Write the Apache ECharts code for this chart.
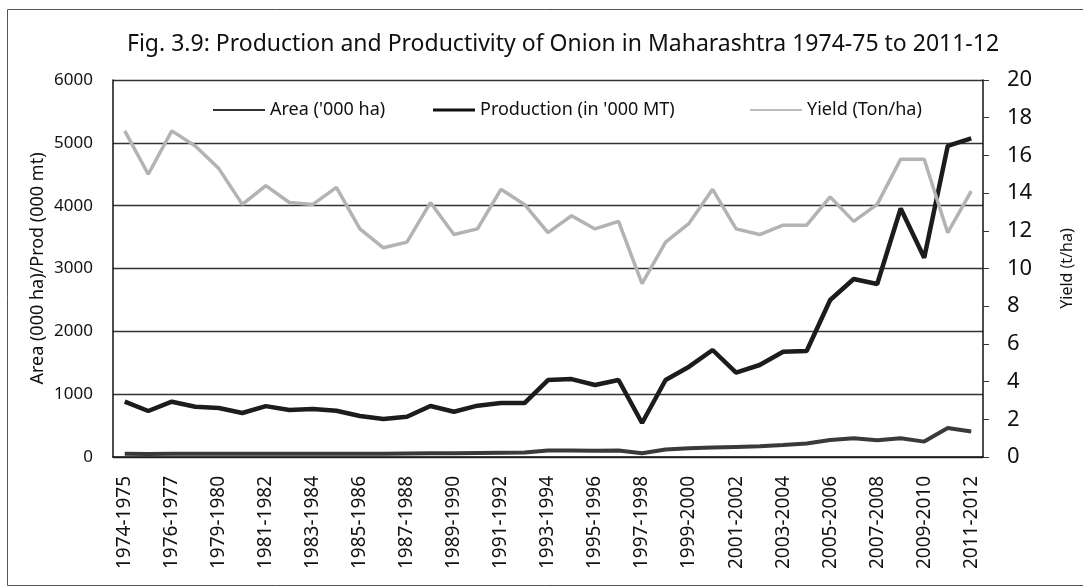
<!DOCTYPE html>
<html>
<head>
<meta charset="utf-8">
<title>Onion in Maharashtra</title>
<script src="https://cdn.jsdelivr.net/npm/echarts@6/dist/echarts.min.js"></script>
<style>
  html, body { margin: 0; padding: 0; background: #fff; }
  #chart { width: 1083px; height: 588px; }
</style>
</head>
<body>
<div id="chart"></div>
<script>
// categories (one year 1977-78 / 1978-79 is missing in the source)
const years = [
  '1974-1975', '1975-1976', '1976-1977', '1978-1979', '1979-1980', '1980-1981',
  '1981-1982', '1982-1983', '1983-1984', '1984-1985', '1985-1986', '1986-1987',
  '1987-1988', '1988-1989', '1989-1990', '1990-1991', '1991-1992', '1992-1993',
  '1993-1994', '1994-1995', '1995-1996', '1996-1997', '1997-1998', '1998-1999',
  '1999-2000', '2000-2001', '2001-2002', '2002-2003', '2003-2004', '2004-2005',
  '2005-2006', '2006-2007', '2007-2008', '2008-2009', '2009-2010', '2010-2011',
  '2011-2012'
]

// '000 ha
const area = [
  50, 48, 52, 50, 50, 50, 52, 50, 52, 52, 52, 52,
  55, 58, 58, 65, 68, 70, 105, 105, 100, 105, 60, 120,
  140, 150, 160, 170, 190, 215, 270, 300, 265, 300, 245, 460,
  405
]

// '000 MT
const production = [
  880, 732, 880, 800, 780, 700, 810, 748, 763, 737, 652, 605,
  641, 811, 721, 817, 859, 859, 1225, 1240, 1146, 1225, 541, 1225,
  1437, 1703, 1342, 1464, 1676, 1687, 2499, 2833, 2753, 3955, 3170, 4950,
  5070
]

// Ton/ha
const yieldTon = [
  17.3, 15.0, 17.3, 16.5, 15.3, 13.4, 14.4, 13.5, 13.4, 14.3, 12.1, 11.1,
  11.4, 13.5, 11.8, 12.1, 14.2, 13.4, 11.9, 12.8, 12.1, 12.5, 9.2, 11.4,
  12.4, 14.2, 12.1, 11.8, 12.3, 12.3, 13.8, 12.5, 13.4, 15.8, 15.8, 11.9,
  14.1
]

const FONT = '"Noto Sans", "Open Sans", sans-serif'
const nameArea = "Area ('000 ha)"
const nameProd = "Production (in '000 MT)"
const nameYield = 'Yield (Ton/ha)'

const chart = echarts.init(document.getElementById('chart'))

// one legend per item, so each can sit where the original has it
function legendAt(name, left, width, color, thick) {
  return {
    data: [name],
    left: left,
    top: 101,
    padding: 0,
    icon: 'rect',
    itemWidth: width,
    itemHeight: thick,
    selectedMode: false,
    itemStyle: { color: color, borderWidth: 0 },
    textStyle: { fontFamily: FONT, fontSize: 18, color: '#111' },
  }
}

chart.setOption({
  animation: false,
  backgroundColor: '#fff',
  textStyle: { fontFamily: FONT },
  title: {
    text: 'Fig. 3.9: Production and Productivity of Onion in Maharashtra 1974-75 to 2011-12',
    left: 127,
    top: 33,
    padding: 0,
    textStyle: { fontFamily: FONT, fontSize: 23, fontWeight: 'normal', color: '#111' },
  },
  // outer frame of the figure
  graphic: [
    {
      type: 'rect',
      shape: { x: 7.5, y: 9.5, width: 1090, height: 576 },
      style: { fill: 'none', stroke: '#555', lineWidth: 1 },
      silent: true,
    },
  ],
  legend: [
    legendAt(nameArea, 213, 52, '#333', 2),
    legendAt(nameProd, 433, 42, '#111', 3),
    legendAt(nameYield, 750, 52, '#bbb', 2),
  ],
  grid: { left: 113, right: 88, top: 80, bottom: 131 },
  xAxis: {
    type: 'category',
    data: years,
    boundaryGap: true,
    axisLine: { lineStyle: { color: '#111', width: 1.5 } },
    axisTick: { show: false },
    axisLabel: {
      interval: 1,
      rotate: 90,
      margin: 19,
      fontFamily: FONT,
      fontSize: 19,
      color: '#111',
    },
  },
  yAxis: [
    {
      type: 'value',
      min: 0,
      max: 6000,
      interval: 1000,
      name: 'Area (000 ha)/Prod (000 mt)',
      nameLocation: 'middle',
      nameRotate: 90,
      nameGap: 66,
      nameMoveOverlap: false,
      nameTextStyle: { fontFamily: FONT, fontSize: 18, color: '#111' },
      axisLine: { show: true, lineStyle: { color: '#111', width: 1.5 } },
      axisTick: { show: false },
      axisLabel: {
        margin: 20,
        fontFamily: FONT,
        fontSize: 17,
        color: '#111',
        formatter: (v) => String(v),
      },
      splitLine: { lineStyle: { color: '#333', width: 1.3 } },
    },
    {
      type: 'value',
      min: 0,
      max: 20,
      interval: 2,
      position: 'right',
      name: 'Yield (t/ha)',
      nameLocation: 'middle',
      nameRotate: 90,
      nameGap: 76,
      nameMoveOverlap: false,
      nameTextStyle: { fontFamily: FONT, fontSize: 16, color: '#111' },
      axisLine: { show: true, lineStyle: { color: '#111', width: 1.5 } },
      axisTick: { show: true, inside: false, length: 6, lineStyle: { color: '#333' } },
      axisLabel: { margin: 24, fontFamily: FONT, fontSize: 22, color: '#111' },
      splitLine: { show: false },
    },
  ],
  series: [
    {
      name: nameArea,
      type: 'line',
      yAxisIndex: 0,
      data: area,
      symbol: 'none',
      lineStyle: { color: '#3a3a3a', width: 4 },
      itemStyle: { color: '#3a3a3a' },
    },
    {
      name: nameProd,
      type: 'line',
      yAxisIndex: 0,
      data: production,
      symbol: 'none',
      lineStyle: { color: '#1c1c1c', width: 4.5 },
      itemStyle: { color: '#1c1c1c' },
    },
    {
      name: nameYield,
      type: 'line',
      yAxisIndex: 1,
      data: yieldTon,
      symbol: 'none',
      lineStyle: { color: '#b3b3b3', width: 3.5 },
      itemStyle: { color: '#b3b3b3' },
    },
  ],
})
</script>
</body>
</html>
